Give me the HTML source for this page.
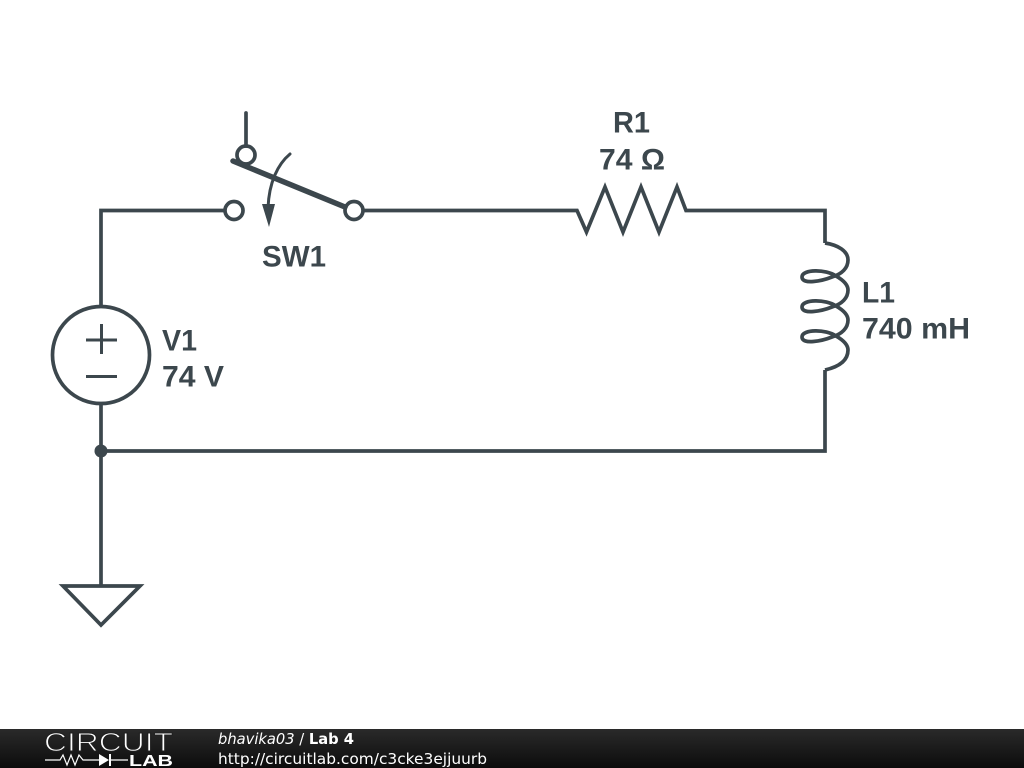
<!DOCTYPE html>
<html><head><meta charset="utf-8"><style>
html,body{margin:0;padding:0;background:#fff;width:1024px;height:768px;overflow:hidden}
svg{display:block}
.l{font-family:"Liberation Sans",Arial,sans-serif;font-weight:700;font-size:29.5px;fill:#3c474d}
.f{font-family:"DejaVu Sans",sans-serif;font-size:14.7px;fill:#fff}
</style></head><body>
<svg width="1024" height="768" viewBox="0 0 1024 768" xmlns="http://www.w3.org/2000/svg">
<defs><linearGradient id="g" x1="0" y1="0" x2="0" y2="1"><stop offset="0" stop-color="#2a2a2a"/><stop offset="1" stop-color="#0c0c0c"/></linearGradient></defs>
<rect width="1024" height="768" fill="#fff"/>
<g fill="none" stroke="#3c474d" stroke-width="3.700" stroke-linejoin="miter">
<path d="M225 210.500H101V306M101 404V586M101 451H825V370M825 243V210.500H686L677 187L659 232L641 187L623 232L605 187L586.500 232L577 210.500H363"/>
<path d="M825 243C838 245 848 251 848 260C848 268 842 274 832 277C822 281 802 285 802 277C802 269 826 269 836 276C843 280 848 285 848 290C848 298 842 304 832 307C822 311 802 315 802 307C802 299 826 299 836 306C843 310 848 315 848 320C848 328 842 334 832 337C822 341 802 345 802 337C802 329 826 329 836 336C843 340 848 345 848 350C848 361 838 367 825 370"/>
<circle cx="101" cy="355" r="48.500"/>
<path d="M86 340H117M101.500 324V354M86 376.500H117" stroke-width="3"/>
<path d="M63 586H140L101 625Z"/>
<circle cx="234" cy="210.500" r="9"/>
<circle cx="354" cy="210.500" r="9"/>
<circle cx="246" cy="155" r="9"/>
<path d="M246 113V146" stroke-linecap="round"/>
<path d="M233 161L345 207" stroke-width="5.500" stroke-linecap="round"/>
<path d="M290 154C278 164 269 182 268 208" stroke-width="3" stroke-linecap="round"/>
</g>
<path d="M262 204L275 204L269 227Z" fill="#3c474d"/>
<circle cx="101" cy="451" r="6.500" fill="#3c474d"/>
<text class="l" x="613" y="132.500" textLength="37" lengthAdjust="spacingAndGlyphs">R1</text>
<text class="l" x="599" y="169.500" textLength="66" lengthAdjust="spacingAndGlyphs">74 Ω</text>
<text class="l" x="262" y="266.500" textLength="64" lengthAdjust="spacingAndGlyphs">SW1</text>
<text class="l" x="162" y="350.500" textLength="35" lengthAdjust="spacingAndGlyphs">V1</text>
<text class="l" x="162" y="386.500" textLength="62" lengthAdjust="spacingAndGlyphs">74 V</text>
<text class="l" x="862" y="302.500" textLength="33" lengthAdjust="spacingAndGlyphs">L1</text>
<text class="l" x="862" y="338.500" textLength="108" lengthAdjust="spacingAndGlyphs">740 mH</text>
<rect x="0" y="729" width="1024" height="39" fill="url(#g)"/>
<text x="44" y="751" font-family="'Liberation Sans',sans-serif" font-size="26" textLength="129" lengthAdjust="spacingAndGlyphs" fill="#fff" stroke="#202020" stroke-width="1">CIRCUIT</text>
<path d="M45 760H60L63 755L67 765L71 755L75 765L79 755L83 760H99M128 760H110" fill="none" stroke="#fff" stroke-width="1.200"/>
<path d="M99 754L109 760L99 766Z" fill="#fff"/><path d="M110 754V766" stroke="#fff" stroke-width="2"/>
<text x="129" y="766" font-family="'Liberation Sans',sans-serif" font-weight="700" font-size="15.500" textLength="44" lengthAdjust="spacingAndGlyphs" fill="#fff">LAB</text>
<text class="f" x="218" y="744"><tspan font-style="italic">bhavika03</tspan> / <tspan font-weight="700">Lab 4</tspan></text>
<text class="f" x="218" y="764" style="font-size:15.4px" textLength="269" lengthAdjust="spacing">http://circuitlab.com/c3cke3ejjuurb</text>
</svg>
</body></html>
